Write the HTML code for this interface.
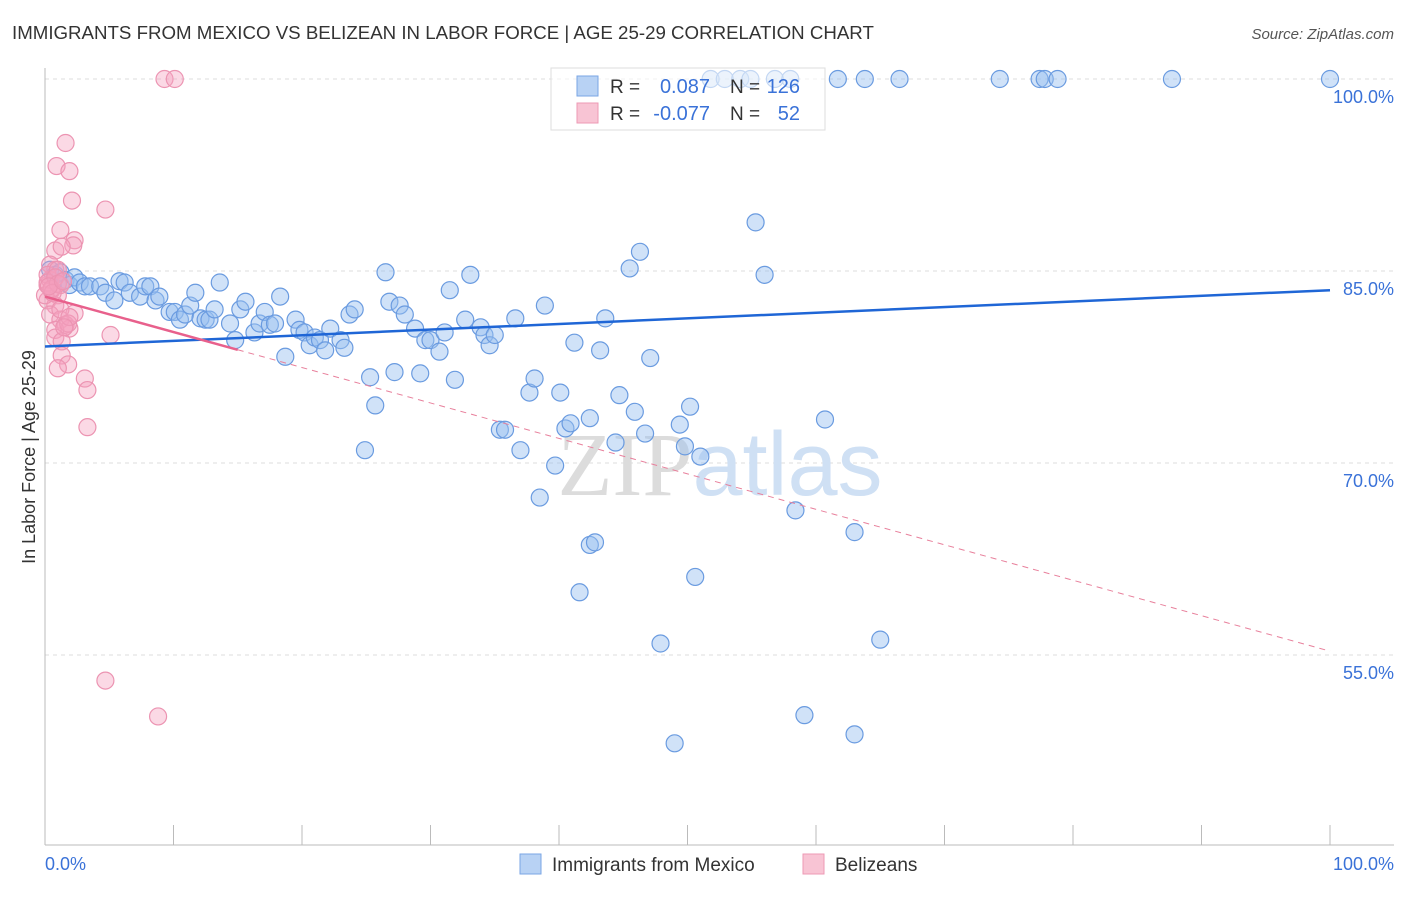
<!DOCTYPE html>
<html><head><meta charset="utf-8"><style>
body{margin:0;background:#fff;font-family:"Liberation Sans",sans-serif}
svg text{font-family:"Liberation Sans",sans-serif}
</style></head><body>
<svg id="c" width="1406" height="892" xmlns="http://www.w3.org/2000/svg">
<text x="12" y="39" font-size="18.7" fill="#333">IMMIGRANTS FROM MEXICO VS BELIZEAN IN LABOR FORCE | AGE 25-29 CORRELATION CHART</text>
<text x="1394" y="39" font-size="15" fill="#555" font-style="italic" text-anchor="end">Source: ZipAtlas.com</text>
<text x="35" y="457" font-size="18" fill="#333" text-anchor="middle" transform="rotate(-90 35 457)">In Labor Force | Age 25-29</text>
<g id="grid"></g>
<text x="720" y="495" font-size="90" fill="#e4e4e4" text-anchor="middle" font-family="Liberation Serif"><tspan font-family="Liberation Serif" fill="#dcdcdc">ZIP</tspan><tspan font-family="Liberation Sans" fill="#cfe0f4">atlas</tspan></text>
<g id="pts"></g>
<g id="lines"></g>
<g>
<rect x="551" y="68" width="274" height="62" fill="rgba(255,255,255,0.6)" stroke="#ddd"/>
<rect x="577" y="76" width="21" height="20" fill="#b8d2f4" stroke="#7aa6e4"/>
<rect x="577" y="103" width="21" height="20" fill="#f8c4d4" stroke="#ee9ab4"/>
<text x="610" y="93" font-size="19" fill="#333">R =</text><text x="710" y="93" font-size="20" fill="#3a72d8" text-anchor="end">0.087</text>
<text x="730" y="93" font-size="19" fill="#333">N =</text><text x="800" y="93" font-size="20" fill="#3a72d8" text-anchor="end">126</text>
<text x="610" y="120" font-size="19" fill="#333">R =</text><text x="710" y="120" font-size="20" fill="#3a72d8" text-anchor="end">-0.077</text>
<text x="730" y="120" font-size="19" fill="#333">N =</text><text x="800" y="120" font-size="20" fill="#3a72d8" text-anchor="end">52</text>
</g>
<g>
<rect x="520" y="854" width="21" height="20" fill="#b8d2f4" stroke="#7aa6e4"/>
<text x="552" y="871" font-size="19" fill="#333">Immigrants from Mexico</text>
<rect x="803" y="854" width="21" height="20" fill="#f8c4d4" stroke="#ee9ab4"/>
<text x="835" y="871" font-size="19" fill="#333">Belizeans</text>
</g>
<text x="45" y="870" font-size="18" fill="#3a72d8">0.0%</text>
<text x="1394" y="870" font-size="18" fill="#3a72d8" text-anchor="end">100.0%</text>
</svg>
<script>
const yTicks=[100,85,70,55];
const blueX=[0.4,0.8,1.2,1.6,1.9,2.3,2.7,3.1,3.5,4.3,4.7,5.4,5.8,6.2,6.6,7.4,7.8,8.2,8.6,8.9,9.7,10.1,10.5,10.9,11.3,11.7,12.1,12.5,12.8,13.2,13.6,14.4,14.8,15.2,15.6,16.3,16.7,17.1,17.5,17.9,18.3,18.7,19.5,19.8,20.2,20.6,21.0,21.4,21.8,22.2,23.0,23.3,23.7,24.1,24.9,25.3,25.7,26.5,26.8,27.2,27.6,28.0,28.8,29.2,29.6,30.0,30.7,31.1,31.5,31.9,32.7,33.1,33.9,34.2,34.6,35.0,35.4,35.8,36.6,37.0,37.7,38.1,38.5,38.9,39.7,40.1,40.5,40.9,41.2,42.4,42.4,43.2,43.6,44.4,44.7,45.5,45.9,46.3,46.7,47.1,47.9,49.0,49.4,49.8,50.6,51.0,50.2,55.3,56.0,58.4,59.1,60.7,63.0,63.0,65.0,41.6,42.8,51.8,52.9,54.1,54.9,56.8,58.0,61.7,63.8,66.5,74.3,77.4,77.8,78.8,87.7,100];
const blueY=[85.1,84.7,84.9,84.3,83.9,84.5,84.1,83.8,83.8,83.8,83.3,82.7,84.2,84.1,83.3,83.0,83.8,83.8,82.7,83.0,81.8,81.8,81.2,81.6,82.3,83.3,81.3,81.2,81.2,82.0,84.1,80.9,79.6,82.0,82.6,80.2,80.9,81.8,80.8,80.9,83.0,78.3,81.2,80.4,80.2,79.2,79.8,79.6,78.8,80.5,79.6,79.0,81.6,82.0,71.0,76.7,74.5,84.9,82.6,77.1,82.3,81.6,80.5,77.0,79.6,79.6,78.7,80.2,83.5,76.5,81.2,84.7,80.6,80.0,79.2,80.0,72.6,72.6,81.3,71.0,75.5,76.6,67.3,82.3,69.8,75.5,72.7,73.1,79.4,73.5,63.6,78.8,81.3,71.6,75.3,85.2,74.0,86.5,72.3,78.2,55.9,48.1,73.0,71.3,61.1,70.5,74.4,88.8,84.7,66.3,50.3,73.4,64.6,48.8,56.2,59.9,63.8,100,100,100,100,100,100,100,100,100,100,100,100,100,100,100];
const pinkX=[9.3,10.1,1.6,0.9,1.9,2.1,4.7,1.2,2.3,2.2,0.8,1.3,0.4,0.8,0.2,0.5,1.0,0.2,0.8,2.3,0.4,1.2,1.6,1.9,0.8,5.1,0.8,1.3,1.3,1.8,1.0,3.1,3.3,3.3,4.7,8.8,0.4,0,1.2,1.8,1.9,0.2,1.0,1.2,0.2,0.8,0.5,1.0,0.6,1.5,0.3,1.4];
const pinkY=[100,100,95.0,93.2,92.8,90.5,89.8,88.2,87.4,87.0,86.6,86.9,85.5,85.1,83.9,83.5,83.1,82.7,82.3,81.7,81.6,81.2,80.8,80.5,80.4,80.0,79.8,79.5,78.4,77.7,77.4,76.6,75.7,72.8,53.0,50.2,84.3,83.1,82.0,80.9,81.4,84.7,85.1,83.9,84.1,84.5,83.6,84.0,83.3,80.6,83.8,84.2];
const blueTrend=[79.1,83.5];
const pinkTrend=[83.0,55.3];
const pinkSolidEnd=15;
const X=v=>45+v*12.85, Y=v=>79+(100-v)*12.8;
const NS="http://www.w3.org/2000/svg";
const mk=(p,t,a)=>{const e=document.createElementNS(NS,t);for(const k in a)e.setAttribute(k,a[k]);p.appendChild(e);return e;};
const grid=document.getElementById('grid');
yTicks.forEach(t=>{
 const l=mk(grid,'line',{x1:45,x2:1394,y1:Y(t),y2:Y(t),stroke:'#ddd','stroke-dasharray':'4,4'});
 
 
 const tx=mk(grid,'text',{x:1394,y:Y(t)+24,'font-size':18,fill:'#3a72d8','text-anchor':'end'});
 tx.textContent=t.toFixed(1)+'%';
 
 
});
mk(grid,'line',{x1:45,x2:45,y1:68,y2:845,stroke:'#bbb'});
mk(grid,'line',{x1:45,x2:1394,y1:845,y2:845,stroke:'#bbb'});
for(let i=0;i<=10;i++){mk(grid,'line',{x1:X(i*10),x2:X(i*10),y1:825,y2:845,stroke:'#bbb'});}
const pts=document.getElementById('pts');
blueX.forEach((x,i)=>{const c=mk(pts,'circle',{cx:X(x),cy:Y(blueY[i]),r:8.5,fill:'rgba(150,190,240,0.45)',stroke:'#6a9be0','stroke-width':1.2});
 
 });
pinkX.forEach((x,i)=>{const c=mk(pts,'circle',{cx:X(x),cy:Y(pinkY[i]),r:8.5,fill:'rgba(245,160,190,0.4)',stroke:'#ec94b2','stroke-width':1.2});
 
 });
const ln=document.getElementById('lines');
const b=mk(ln,'line',{x1:X(0),y1:Y(blueTrend[0]),x2:X(100),y2:Y(blueTrend[1]),stroke:'#1f66d6','stroke-width':2.5});


const pm=v=>pinkTrend[0]+(pinkTrend[1]-pinkTrend[0])*v/100;
const p1=mk(ln,'line',{x1:X(0),y1:Y(pm(0)),x2:X(pinkSolidEnd),y2:Y(pm(pinkSolidEnd)),stroke:'#e8608c','stroke-width':2.5});


const p2=mk(ln,'line',{x1:X(pinkSolidEnd),y1:Y(pm(pinkSolidEnd)),x2:X(100),y2:Y(pm(100)),stroke:'#e8809c','stroke-width':1,'stroke-dasharray':'6,5'});


</script>
</body></html>
